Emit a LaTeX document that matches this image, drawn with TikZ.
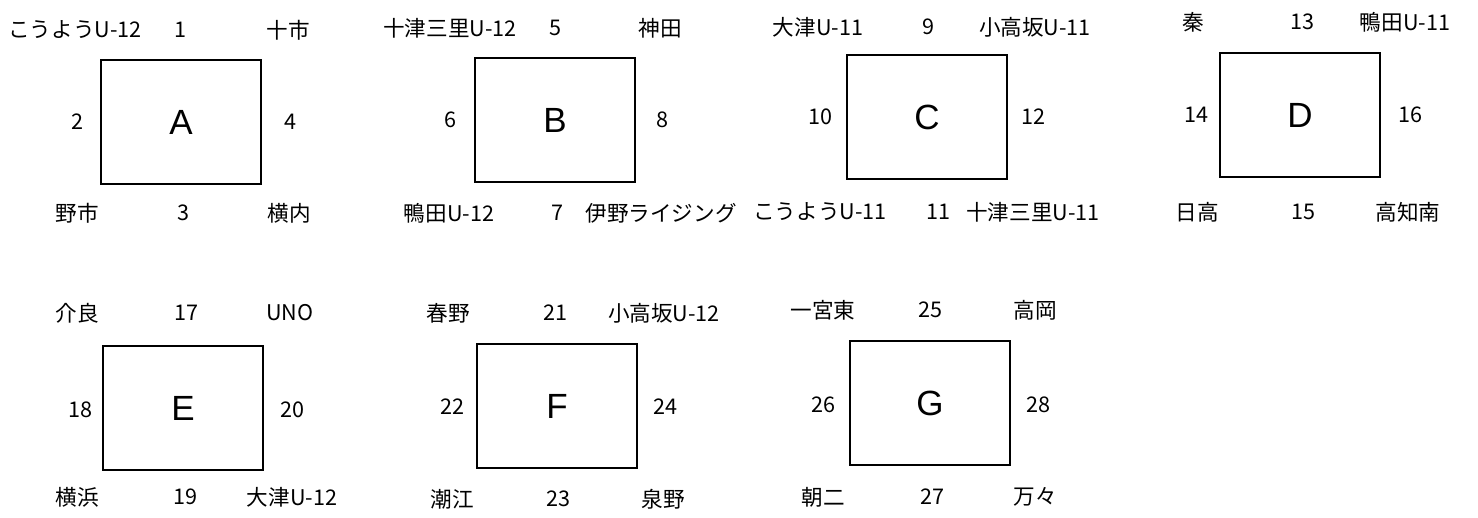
\documentclass[tikz,border=0pt]{standalone}
\usepackage{fontspec}
\setmainfont{Noto Sans CJK JP}
\newfontfamily\letterfont{Liberation Sans}
\tikzset{
  groupbox/.style={draw, line width=1pt, minimum width=80pt, minimum height=62pt,
    inner sep=0pt, font=\letterfont\fontsize{17.5}{20}\selectfont},
  team/.style={inner sep=0pt, font=\fontsize{10.8}{12}\selectfont},
  slot/.style={inner sep=0pt, font=\fontsize{10.8}{12}\selectfont}
}
\begin{document}
\begin{tikzpicture}[x=0.5pt, y=-0.5pt]
        \useasboundingbox (0,0) rectangle (1478,518);

        % Group A
        \node[groupbox] (A) at (181,122) {A};
        \node[team] (a1t) at (75,30) {こうようU-12};
        \node[slot] (a1) at (180,30) {1};
        \node[team] (a4t) at (288,30) {十市};
        \node[slot] (a2) at (77,122) {2};
        \node[slot] (a4) at (290,122) {4};
        \node[team] (a2t) at (77,213) {野市};
        \node[slot] (a3) at (183,213) {3};
        \node[team] (a3t) at (289,213) {横内};

        % Group B
        \node[groupbox] (B) at (555,120) {B};
        \node[team] (b1t) at (450,28) {十津三里U-12};
        \node[slot] (b1) at (555,28) {5};
        \node[team] (b4t) at (660,28) {神田};
        \node[slot] (b2) at (450,120) {6};
        \node[slot] (b4) at (662,120) {8};
        \node[team] (b2t) at (449,213) {鴨田U-12};
        \node[slot] (b3) at (557,213) {7};
        \node[team] (b3t) at (661,213) {伊野ライジング};

        % Group C
        \node[groupbox] (C) at (927,117) {C};
        \node[team] (c1t) at (818,27) {大津U-11};
        \node[slot] (c1) at (928,27) {9};
        \node[team] (c4t) at (1035,27) {小高坂U-11};
        \node[slot] (c2) at (820,117) {10};
        \node[slot] (c4) at (1033,117) {12};
        \node[team] (c2t) at (820,212) {こうようU-11};
        \node[slot] (c3) at (938,212) {11};
        \node[team] (c3t) at (1033,212) {十津三里U-11};

        % Group D
        \node[groupbox] (D) at (1300,115) {D};
        \node[team] (d1t) at (1193,22) {秦};
        \node[slot] (d1) at (1302,22) {13};
        \node[team] (d4t) at (1405,22) {鴨田U-11};
        \node[slot] (d2) at (1196,115) {14};
        \node[slot] (d4) at (1410,115) {16};
        \node[team] (d2t) at (1197,212) {日高};
        \node[slot] (d3) at (1303,212) {15};
        \node[team] (d3t) at (1408,212) {高知南};

        % Group E
        \node[groupbox] (E) at (183,408) {E};
        \node[team] (e1t) at (77,313) {介良};
        \node[slot] (e1) at (186,313) {17};
        \node[team] (e4t) at (290,313) {UNO};
        \node[slot] (e2) at (80,410) {18};
        \node[slot] (e4) at (292,410) {20};
        \node[team] (e2t) at (77,497) {横浜};
        \node[slot] (e3) at (185,497) {19};
        \node[team] (e3t) at (292,497) {大津U-12};

        % Group F
        \node[groupbox] (F) at (557,406) {F};
        \node[team] (f1t) at (448,313) {春野};
        \node[slot] (f1) at (555,313) {21};
        \node[team] (f4t) at (664,313) {小高坂U-12};
        \node[slot] (f2) at (452,407) {22};
        \node[slot] (f4) at (665,407) {24};
        \node[team] (f2t) at (452,499) {潮江};
        \node[slot] (f3) at (558,499) {23};
        \node[team] (f3t) at (663,499) {泉野};

        % Group G
        \node[groupbox] (G) at (930,403) {G};
        \node[team] (g1t) at (823,310) {一宮東};
        \node[slot] (g1) at (930,310) {25};
        \node[team] (g4t) at (1035,310) {高岡};
        \node[slot] (g2) at (823,405) {26};
        \node[slot] (g4) at (1038,405) {28};
        \node[team] (g2t) at (823,497) {朝二};
        \node[slot] (g3) at (932,497) {27};
        \node[team] (g3t) at (1035,497) {万々};
    \end{tikzpicture}
\end{document}
